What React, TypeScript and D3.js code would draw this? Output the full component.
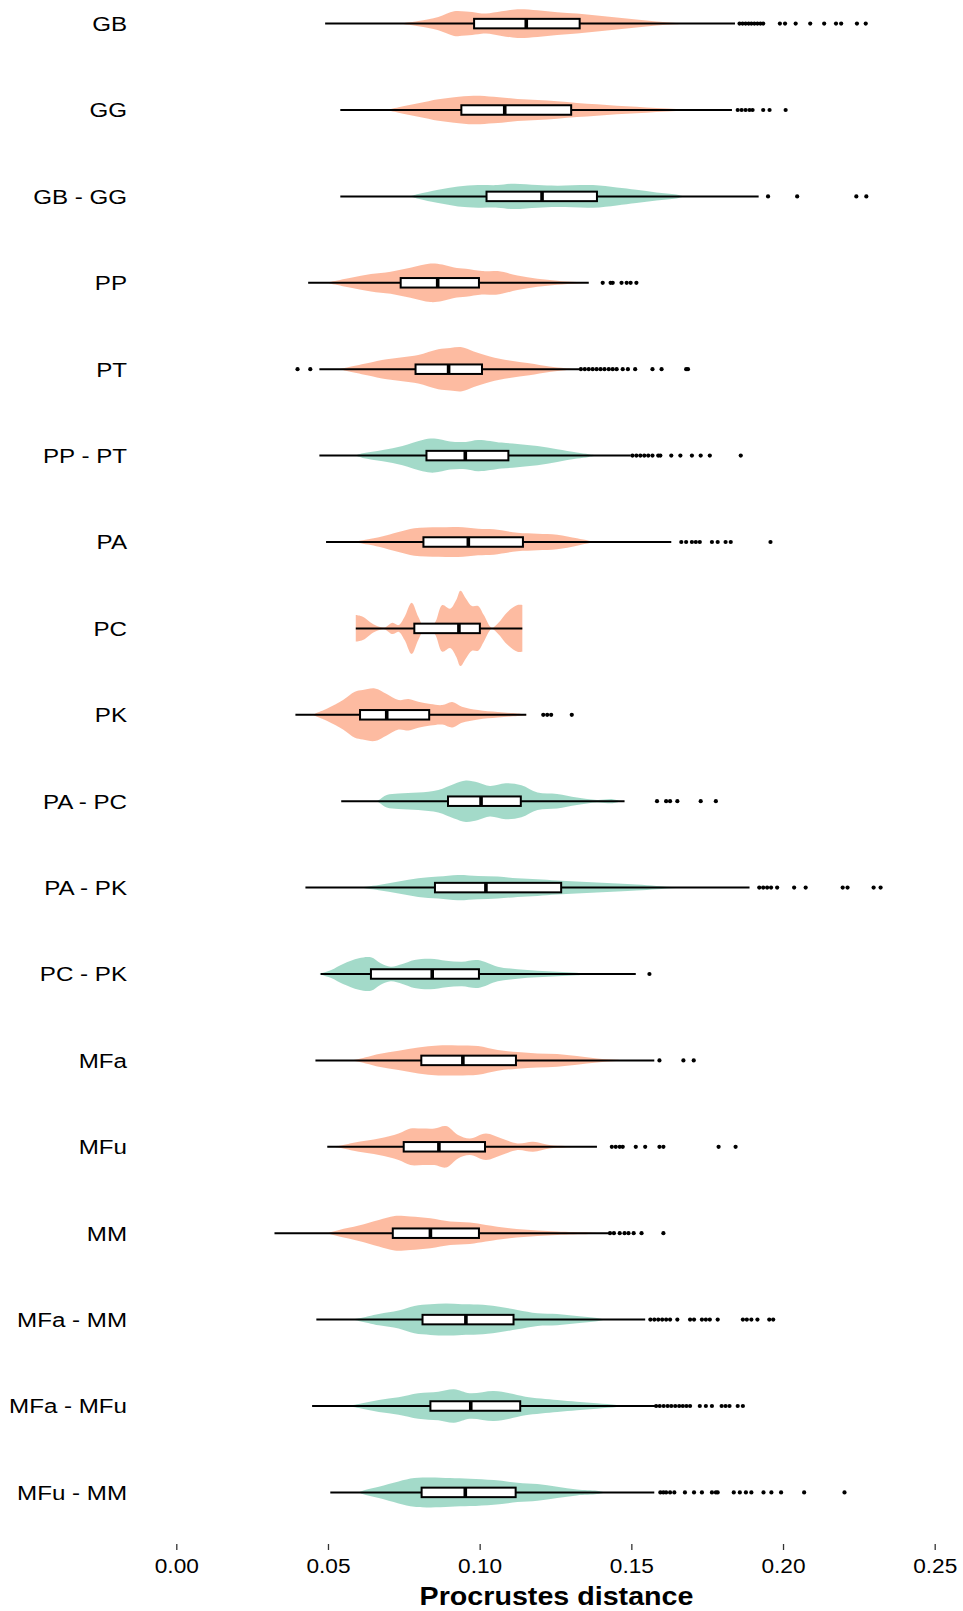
import React from 'react';
import * as d3 from 'd3';

const categories = ['GB', 'GG', 'GB - GG', 'PP', 'PT', 'PP - PT', 'PA', 'PC', 'PK', 'PA - PC', 'PA - PK', 'PC - PK', 'MFa', 'MFu', 'MM', 'MFa - MM', 'MFa - MFu', 'MFu - MM'];
const comparisonType = ['within', 'within', 'between', 'within', 'within', 'between', 'within', 'within', 'within', 'between', 'between', 'between', 'within', 'within', 'within', 'between', 'between', 'between'];

const whiskerLow = [0.0489, 0.0539, 0.0539, 0.0433, 0.0470, 0.0470, 0.0492, 0.0590, 0.0391, 0.0542, 0.0424, 0.0474, 0.0457, 0.0496, 0.0322, 0.0460, 0.0446, 0.0506];
const q1 = [0.0980, 0.0938, 0.1021, 0.0738, 0.0787, 0.0823, 0.0813, 0.0783, 0.0604, 0.0894, 0.0851, 0.0640, 0.0806, 0.0748, 0.0712, 0.0810, 0.0836, 0.0807];
const median = [0.1152, 0.1081, 0.1204, 0.0860, 0.0896, 0.0951, 0.0961, 0.0930, 0.0692, 0.1003, 0.1019, 0.0842, 0.0943, 0.0864, 0.0836, 0.0953, 0.0969, 0.0951];
const q3 = [0.1328, 0.1300, 0.1385, 0.0996, 0.1006, 0.1093, 0.1141, 0.0999, 0.0832, 0.1134, 0.1267, 0.0996, 0.1118, 0.1016, 0.0996, 0.1110, 0.1132, 0.1117];
const whiskerHigh = [0.1840, 0.1830, 0.1918, 0.1358, 0.1326, 0.1496, 0.1630, 0.1139, 0.1152, 0.1476, 0.1888, 0.1513, 0.1574, 0.1385, 0.1424, 0.1544, 0.1578, 0.1574];

const outliers = [
  [0.1855, 0.1865, 0.1875, 0.1885, 0.1894, 0.1904, 0.1914, 0.1924, 0.1933, 0.1988, 0.2005, 0.2040, 0.2088, 0.2134, 0.2173, 0.2190, 0.2242, 0.2271],
  [0.1849, 0.1862, 0.1875, 0.1888, 0.1898, 0.1933, 0.1954, 0.2007],
  [0.1949, 0.2045, 0.2240, 0.2273],
  [0.1404, 0.1430, 0.1437, 0.1466, 0.1483, 0.1496, 0.1515],
  [0.0398, 0.0440, 0.1332, 0.1345, 0.1358, 0.1371, 0.1384, 0.1397, 0.1410, 0.1424, 0.1437, 0.1450, 0.1470, 0.1487, 0.1511, 0.1568, 0.1598, 0.1679, 0.1685],
  [0.1502, 0.1515, 0.1528, 0.1541, 0.1554, 0.1568, 0.1587, 0.1594, 0.1630, 0.1660, 0.1698, 0.1727, 0.1757, 0.1859],
  [0.1663, 0.1679, 0.1698, 0.1711, 0.1724, 0.1764, 0.1783, 0.1809, 0.1826, 0.1957],
  [],
  [0.1208, 0.1221, 0.1234, 0.1302],
  [0.1583, 0.1613, 0.1626, 0.1650, 0.1727, 0.1777],
  [0.1920, 0.1933, 0.1946, 0.1959, 0.1979, 0.2035, 0.2073, 0.2195, 0.2211, 0.2297, 0.2320],
  [0.1558],
  [0.1591, 0.1670, 0.1704],
  [0.1434, 0.1447, 0.1460, 0.1470, 0.1513, 0.1544, 0.1591, 0.1604, 0.1786, 0.1842],
  [0.1428, 0.1441, 0.1460, 0.1476, 0.1489, 0.1506, 0.1532, 0.1604],
  [0.1561, 0.1574, 0.1587, 0.1600, 0.1613, 0.1626, 0.1650, 0.1692, 0.1705, 0.1731, 0.1744, 0.1757, 0.1783, 0.1866, 0.1879, 0.1894, 0.1914, 0.1953, 0.1966],
  [0.1580, 0.1592, 0.1605, 0.1618, 0.1630, 0.1643, 0.1656, 0.1668, 0.1680, 0.1692, 0.1724, 0.1744, 0.1764, 0.1796, 0.1809, 0.1822, 0.1849, 0.1866],
  [0.1594, 0.1604, 0.1613, 0.1626, 0.1640, 0.1675, 0.1705, 0.1731, 0.1764, 0.1777, 0.1783, 0.1836, 0.1856, 0.1876, 0.1894, 0.1934, 0.1960, 0.1992, 0.2068, 0.2201],
];

// [distance, relative density]
const violins: number[][][] = [
  [[0.0731, 0], [0.0796, 2.7], [0.0862, 6.7], [0.0914, 12.3], [0.0953, 12], [0.0993, 10.7], [0.1019, 10], [0.1071, 12.3], [0.1123, 14.3], [0.1189, 13.3], [0.1254, 11.3], [0.1319, 10], [0.1385, 8], [0.145, 6], [0.1515, 4], [0.1581, 2], [0.1646, 0.7], [0.172, 0]],
  [[0.0692, 0], [0.0731, 2.7], [0.0796, 6.7], [0.0862, 10.7], [0.0914, 12.7], [0.0979, 14.3], [0.1045, 13.3], [0.1123, 11], [0.1189, 10], [0.1254, 8.7], [0.1319, 7], [0.1385, 5.7], [0.145, 4.3], [0.1515, 3.3], [0.1581, 2], [0.1646, 1], [0.1672, 0]],
  [[0.077, 0], [0.0796, 2.3], [0.0862, 6.7], [0.0927, 10], [0.0993, 11.3], [0.1058, 11.3], [0.111, 12.7], [0.1189, 11.3], [0.1254, 10.7], [0.1372, 11.3], [0.145, 9], [0.1515, 6.7], [0.1581, 4], [0.1646, 2], [0.1672, 0]],
  [[0.0496, 0], [0.0509, 1], [0.0574, 5], [0.064, 8.7], [0.0705, 11], [0.077, 15], [0.0836, 19.3], [0.0875, 18.3], [0.0914, 15.3], [0.0953, 14], [0.1006, 11.7], [0.1058, 11.7], [0.1123, 7.3], [0.1189, 4], [0.1254, 2], [0.1319, 0.7], [0.1358, 0]],
  [[0.0535, 0], [0.0561, 1.7], [0.0627, 6], [0.0692, 10], [0.0744, 12], [0.0796, 14.3], [0.0862, 20], [0.0901, 21.3], [0.094, 22], [0.0979, 17.7], [0.1032, 12.7], [0.1097, 8.7], [0.1162, 6], [0.1228, 2.7], [0.128, 1], [0.1319, 0]],
  [[0.0587, 0], [0.0613, 2.3], [0.0679, 5.7], [0.0744, 9.7], [0.081, 15.7], [0.0849, 17], [0.0901, 14], [0.0953, 13.7], [0.0993, 15.7], [0.1071, 13], [0.1123, 11.7], [0.1189, 9.7], [0.1254, 6.3], [0.1319, 3], [0.1358, 1.3], [0.1385, 0]],
  [[0.0581, 0], [0.06, 1], [0.0666, 4.7], [0.0731, 10], [0.0783, 13.7], [0.0862, 14.7], [0.0927, 15], [0.0993, 13.3], [0.1045, 12.7], [0.1123, 9.3], [0.1189, 8.3], [0.1254, 7.3], [0.1319, 3.7], [0.1358, 1.3], [0.1385, 0]],
  [[0.059, 13.3], [0.0613, 11.7], [0.0653, 3.3], [0.0685, 1], [0.0711, 5.7], [0.0731, 3.3], [0.0751, 11.7], [0.0774, 25.7], [0.0796, 11.7], [0.0816, 1.7], [0.0849, 5], [0.0875, 23.3], [0.0901, 19.7], [0.0921, 28.3], [0.0935, 37.7], [0.0953, 30], [0.0973, 22.3], [0.0993, 22.3], [0.1012, 13.3], [0.1038, 0.7], [0.1058, 5], [0.1091, 16.7], [0.1123, 23.3], [0.1139, 23.3]],
  [[0.045, 0], [0.0457, 1.3], [0.0496, 6.3], [0.0548, 14.7], [0.0587, 23], [0.0613, 24.7], [0.0653, 26.3], [0.0692, 20.7], [0.0731, 14.7], [0.0764, 15.7], [0.0796, 13], [0.0836, 10.7], [0.0875, 9.7], [0.0908, 12.7], [0.094, 8], [0.0993, 4.7], [0.1058, 2.7], [0.1123, 1.3], [0.1152, 0.5]],
  [[0.0659, 0], [0.0666, 1.3], [0.0692, 6.3], [0.0731, 7.7], [0.0796, 8.7], [0.0862, 11.3], [0.0914, 17.3], [0.0953, 20.7], [0.0993, 18.7], [0.1032, 15.3], [0.1084, 18], [0.1136, 16], [0.1189, 8.7], [0.1254, 7.3], [0.1319, 3.7], [0.1385, 1.3], [0.1437, 2], [0.1463, 0]],
  [[0.0601, 0], [0.0666, 2.7], [0.0731, 6], [0.0796, 9.3], [0.0862, 11], [0.0927, 12.7], [0.0993, 11.7], [0.1058, 11], [0.1123, 9.3], [0.1189, 8.3], [0.1254, 7], [0.1385, 5], [0.1515, 3], [0.1581, 1.7], [0.1646, 0.5], [0.17, 0]],
  [[0.047, 0], [0.0476, 0.7], [0.0509, 4], [0.0548, 10], [0.06, 15.7], [0.064, 16.7], [0.0672, 10.7], [0.0705, 7.3], [0.0744, 10], [0.0783, 14], [0.0836, 15.3], [0.0888, 13.3], [0.094, 12.3], [0.0993, 14], [0.1058, 7.3], [0.1123, 4.7], [0.1189, 3.3], [0.1254, 2.3], [0.1319, 1.3], [0.1358, 0]],
  [[0.0574, 0], [0.06, 1.3], [0.0666, 6.3], [0.0731, 9.7], [0.0796, 13], [0.0862, 15], [0.0927, 15], [0.0993, 14.3], [0.1058, 10.3], [0.1123, 8.3], [0.1189, 7], [0.1254, 6.3], [0.1319, 4.3], [0.1385, 2], [0.145, 0.7], [0.1476, 0]],
  [[0.0515, 0], [0.0535, 1], [0.06, 5], [0.0666, 8.3], [0.0731, 13.3], [0.077, 18.3], [0.081, 18.3], [0.0849, 18.3], [0.0888, 20.7], [0.0927, 11.7], [0.0966, 8.3], [0.1019, 13.3], [0.1071, 8.3], [0.1123, 3.3], [0.1175, 5], [0.1228, 1.7], [0.128, 0.7], [0.133, 0]],
  [[0.0496, 0], [0.0535, 3.3], [0.06, 7.7], [0.0666, 13.3], [0.0718, 17.3], [0.077, 16.7], [0.0836, 15], [0.0901, 11.7], [0.0966, 10.7], [0.1019, 8.3], [0.1097, 5], [0.1189, 2.7], [0.1254, 1.7], [0.1358, 0.7], [0.1398, 0]],
  [[0.0574, 0], [0.06, 1.3], [0.0666, 5.7], [0.0731, 9], [0.0783, 13.7], [0.0836, 15.3], [0.0888, 16], [0.094, 15.3], [0.0993, 15], [0.1058, 13], [0.1123, 9.7], [0.1189, 6.3], [0.1254, 5.7], [0.1319, 3.7], [0.1385, 1.7], [0.1411, 0]],
  [[0.0561, 0], [0.06, 2], [0.0666, 6], [0.0731, 8.7], [0.0796, 12.7], [0.0862, 14.3], [0.0914, 16.7], [0.0966, 12.7], [0.1045, 15], [0.1097, 12.7], [0.1149, 9.3], [0.1254, 6], [0.1319, 4.3], [0.1385, 2.7], [0.145, 1], [0.1476, 0]],
  [[0.06, 0], [0.0613, 1.7], [0.0666, 5.7], [0.0731, 11], [0.0783, 14.3], [0.0836, 15], [0.0901, 14.3], [0.0966, 13.7], [0.1045, 12.3], [0.1123, 9.7], [0.1189, 8.3], [0.1254, 5.7], [0.1319, 3], [0.1385, 1.7], [0.1411, 0]],
];

const xTicks = [0, 0.05, 0.1, 0.15, 0.2, 0.25];
const xTitle = 'Procrustes distance';

const W = 963;
const H = 1611;
const FONT = '"Liberation Sans", Arial, Helvetica, sans-serif';

export default function App() {
  const x = d3.scaleLinear().domain([0, 0.25]).range([176.8, 935.2]);
  const y = d3.scalePoint<string>().domain(categories).range([23.6, 1492.4]);
  const step = y.step();
  const maxDensity = d3.max(violins.flat(), (d) => d[1]) as number;
  const halfW = d3.scaleLinear().domain([0, maxDensity]).range([0, 0.4365 * step]);
  const color = d3.scaleOrdinal<string, string>().domain(['within', 'between']).range(['#FC8D62', '#66C2A5']);
  const boxHalf = 0.055 * step;
  const axisY = 1544;

  return (
    <svg width={W} height={H} style={{ position: 'absolute', left: 0, top: 0, background: '#fff' }} fontFamily={FONT}>
      {categories.map((cat, i) => {
        const cy = y(cat) as number;
        const area = d3
          .area<number[]>()
          .x((d) => x(d[0]))
          .y0((d) => cy - halfW(d[1]))
          .y1((d) => cy + halfW(d[1]))
          .curve(d3.curveCatmullRom.alpha(0.5));
        return (
          <g key={cat}>
            <path d={area(violins[i]) as string} fill={color(comparisonType[i])} fillOpacity={0.6} stroke="none" />
            <line x1={x(whiskerLow[i])} x2={x(whiskerHigh[i])} y1={cy} y2={cy} stroke="#000" strokeWidth={2} />
            <rect x={x(q1[i])} y={cy - boxHalf} width={x(q3[i]) - x(q1[i])} height={2 * boxHalf} fill="#fff" stroke="#000" strokeWidth={2} />
            <line x1={x(median[i])} x2={x(median[i])} y1={cy - boxHalf} y2={cy + boxHalf} stroke="#000" strokeWidth={3.6} />
            {outliers[i].map((v, j) => (
              <circle key={j} cx={x(v)} cy={cy} r={2.1} fill="#000" />
            ))}
            <text transform={`translate(127,${cy + 0.5}) scale(1.15,1)`} textAnchor="end" dominantBaseline="central" fontSize={21} fill="#000">
              {cat}
            </text>
          </g>
        );
      })}
      {xTicks.map((t) => (
        <g key={t}>
          <line x1={x(t)} x2={x(t)} y1={axisY} y2={axisY + 6} stroke="#333" strokeWidth={1.3} />
          <text transform={`translate(${x(t)},${axisY + 22}) scale(1.08,1)`} textAnchor="middle" dominantBaseline="central" fontSize={21} fill="#000">
            {d3.format('.2f')(t)}
          </text>
        </g>
      ))}
      <text transform={`translate(${(x(0) + x(0.25)) / 2 + 0.5},1596) scale(1.12,1)`} textAnchor="middle" dominantBaseline="central" fontSize={25.6} fontWeight="bold" fill="#000">
        {xTitle}
      </text>
    </svg>
  );
}
